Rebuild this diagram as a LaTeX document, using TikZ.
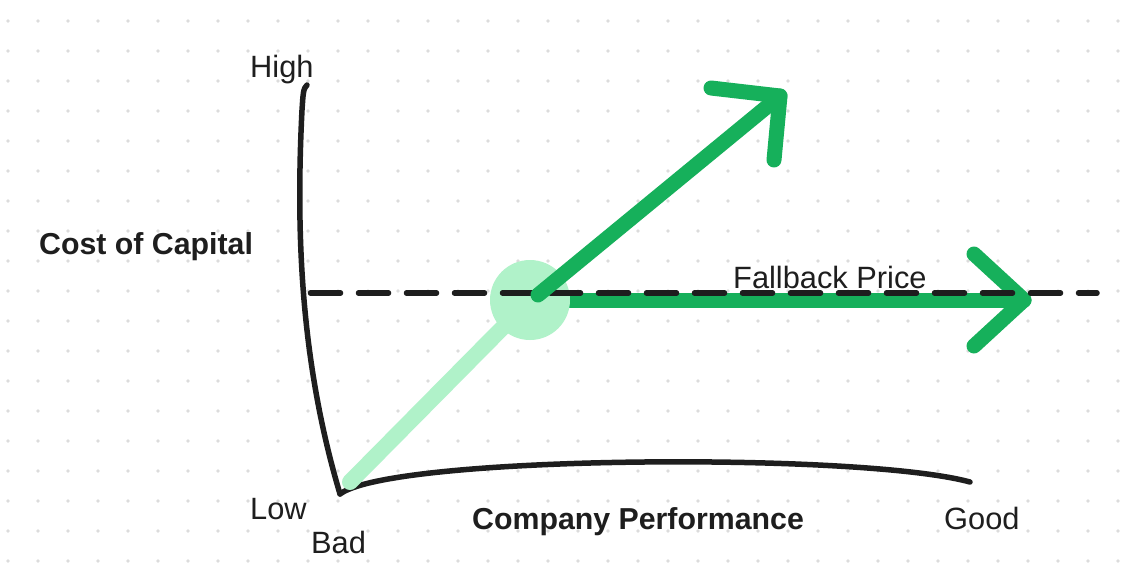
\documentclass[tikz,border=0pt]{standalone}
\usepackage{fontspec}
\setmainfont{Liberation Sans}
\definecolor{ink}{HTML}{1E1E1E}
\definecolor{dotc}{HTML}{DCDCDC}
\definecolor{dgreen}{HTML}{16B05B}
\definecolor{lgreen}{HTML}{B0F2C9}
\begin{document}
\begin{tikzpicture}[x=1pt,y=-1pt,
  axis/.style={draw=ink,line width=5.5pt,line cap=round,line join=round},
  garrow/.style={draw=dgreen,line width=15pt,line cap=round,line join=round},
  lbl/.style={anchor=base west,inner sep=0pt,text=ink,font=\fontsize{30.8}{36}\selectfont},
  blbl/.style={lbl,font=\fontsize{30.3}{36}\selectfont\bfseries}]
\useasboundingbox (0,0) rectangle (1140,574);
\fill[white] (0,0) rectangle (1140,574);
% dot grid
\foreach \i in {0,...,37}{\foreach \j in {0,...,18}{
  \fill[dotc] (8+30*\i,21+30*\j) circle (1.8pt);}}
% coordinates
\coordinate (ytop) at (307,85);
\coordinate (orig) at (340,494);
\coordinate (xend) at (970,482);
\coordinate (lstart) at (350,482);
\coordinate (ctr) at (530,300);
\coordinate (d1) at (308,293);
\coordinate (d2) at (1097,293);
\coordinate (a1s) at (538,295);
\coordinate (a1t) at (780,96);
\coordinate (a1l) at (711,88);
\coordinate (a1b) at (774,160);
\coordinate (a2t) at (1024,300);
\coordinate (a2u) at (974,254);
\coordinate (a2d) at (974,346);
% axes
\draw[axis] (ytop) .. controls (303,88) and (303,96) .. (302,110)
  .. controls (296,230) and (300,360) .. (orig);
\draw[axis] (orig) .. controls (392,455) and (860,452) .. (xend);
% light green line and circle
\draw[lgreen,line width=16pt,line cap=round] (lstart) -- (ctr);
\draw[garrow] (ctr) -- (a2t);
\draw[garrow] (a2u) -- (a2t) -- (a2d);
\fill[lgreen] (ctr) circle (40pt);
% dashed fallback line
\draw[ink,line width=5.5pt,line cap=round,dash pattern=on 30pt off 18pt,dash phase=-2.5pt] (d1) -- (d2);
% diagonal arrow
\draw[garrow] (a1s) -- (a1t);
\draw[garrow] (a1l) -- (a1t) -- (a1b);
% labels
\node[lbl] (high) at (250,77) {High};
\node[blbl] (cost) at (39,254) {Cost of Capital};
\node[lbl] (fall) at (733,288) {Fallback Price};
\node[lbl] (low) at (250,519) {Low};
\node[lbl] (bad) at (311,553) {Bad};
\node[blbl] (perf) at (472,529) {Company Performance};
\node[lbl] (good) at (944,529) {Good};
\end{tikzpicture}
\end{document}
